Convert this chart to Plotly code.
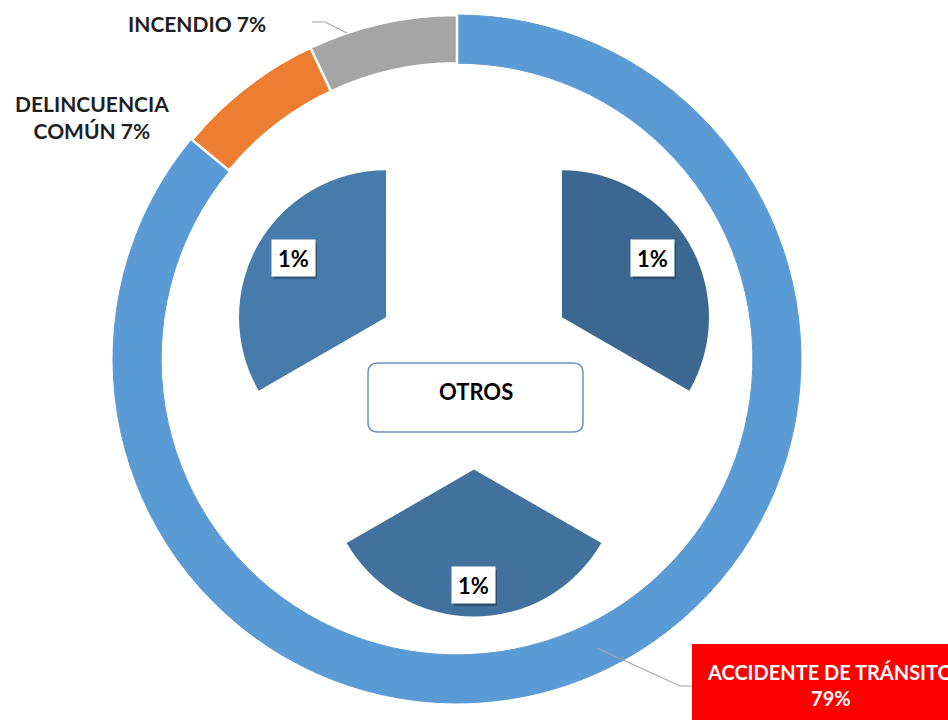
import plotly.graph_objects as go

W, H = 948, 720

# outer ring (clockwise from 12 o'clock)
ring_labels = ["ACCIDENTE DE TRÁNSITO", "OTROS", "DELINCUENCIA COMÚN", "INCENDIO"]
ring_values = [79, 7, 7, 7]
ring_colors = ["#5B9BD5", "#5B9BD5", "#ED7D31", "#A5A5A5"]
ring_line_colors = ["#5B9BD5", "#5B9BD5", "white", "white"]
ring_line_widths = [1, 1, 2.5, 2.5]

# breakdown of OTROS (inner exploded pie)
otros_labels = ["Otros A", "Otros B", "Otros C"]
otros_values = [1, 1, 1]
otros_colors = ["#3B6790", "#41719C", "#477BAC"]


def fx(x):
    return x / W


def fy(y):
    return 1 - y / H


FONT = "Lato"

fig = go.Figure()

fig.add_trace(go.Pie(
    labels=ring_labels,
    values=ring_values,
    hole=0.86,
    sort=False,
    direction="clockwise",
    rotation=0,
    marker=dict(colors=ring_colors,
                line=dict(color=ring_line_colors, width=ring_line_widths)),
    textinfo="none",
    domain=dict(x=[fx(113), fx(801)], y=[fy(703), fy(15)]),
    showlegend=False,
))

fig.add_trace(go.Pie(
    labels=otros_labels,
    values=otros_values,
    sort=False,
    direction="clockwise",
    rotation=0,
    pull=0.691,
    marker=dict(colors=otros_colors, line=dict(width=0)),
    textinfo="none",
    domain=dict(x=[fx(225.4), fx(722.6)], y=[fy(616.6), fy(119.4)]),
    showlegend=False,
))

shapes = []
annotations = []

# rounded box for OTROS
x0, x1, y0, y1, r = 368, 583, 363, 432, 10
path = (
    f"M {fx(x0 + r)},{fy(y0)} L {fx(x1 - r)},{fy(y0)} "
    f"Q {fx(x1)},{fy(y0)} {fx(x1)},{fy(y0 + r)} "
    f"L {fx(x1)},{fy(y1 - r)} Q {fx(x1)},{fy(y1)} {fx(x1 - r)},{fy(y1)} "
    f"L {fx(x0 + r)},{fy(y1)} Q {fx(x0)},{fy(y1)} {fx(x0)},{fy(y1 - r)} "
    f"L {fx(x0)},{fy(y0 + r)} Q {fx(x0)},{fy(y0)} {fx(x0 + r)},{fy(y0)} Z"
)
shapes.append(dict(type="path", xref="paper", yref="paper", path=path,
                   fillcolor="white", line=dict(color="#6F93C0", width=1.5)))
annotations.append(dict(x=fx(476), y=fy(392), xref="paper", yref="paper",
                        xanchor="center", yanchor="middle",
                        text="<b>OTROS</b>", showarrow=False,
                        font=dict(family=FONT, size=22, color="#000000")))

# percentage boxes on the inner slices
pct_pos = [(652, 258), (473, 585), (293, 258)]
for v, (x, y) in zip(otros_values, pct_pos):
    shapes.append(dict(type="rect", xref="paper", yref="paper",
                       x0=fx(x - 19), x1=fx(x + 24), y0=fy(y + 21), y1=fy(y - 15),
                       fillcolor="rgba(0,0,0,0.28)", line=dict(width=0)))
    annotations.append(dict(x=fx(x), y=fy(y), xref="paper", yref="paper",
                            xanchor="center", yanchor="middle",
                            text=f"<b>{v}%</b>", showarrow=False,
                            width=43, height=36, bgcolor="white", borderpad=0,
                            font=dict(family=FONT, size=22, color="#000000")))

# leader lines
lines = [
    [(312, 22), (325, 22), (347, 33)],
    [(597, 648), (680, 686), (692, 686)],
]
for pts in lines:
    p = "M " + " L ".join(f"{fx(a)},{fy(b)}" for a, b in pts)
    shapes.append(dict(type="path", xref="paper", yref="paper", path=p,
                       line=dict(color="#A6A6A6", width=1.2)))

# red label box for ACCIDENTE
shapes.append(dict(type="rect", xref="paper", yref="paper",
                   x0=fx(692), x1=fx(965), y0=fy(735), y1=fy(644),
                   fillcolor="#FF0000", line=dict(width=0)))

annotations.append(dict(x=fx(197), y=fy(24), xref="paper", yref="paper",
                        xanchor="center", yanchor="middle",
                        text=f"<b>{ring_labels[3]} {ring_values[3]}%</b>",
                        showarrow=False,
                        font=dict(family=FONT, size=21, color="#1F1F1F")))
annotations.append(dict(x=fx(92), y=fy(117), xref="paper", yref="paper",
                        xanchor="center", yanchor="middle",
                        text=f"<b>DELINCUENCIA<br>COMÚN {ring_values[2]}%</b>",
                        showarrow=False,
                        font=dict(family=FONT, size=21, color="#1F1F1F")))
annotations.append(dict(x=fx(830), y=fy(685), xref="paper", yref="paper",
                        xanchor="center", yanchor="middle",
                        text=f"<b>{ring_labels[0]}<br>{ring_values[0]}%</b>",
                        showarrow=False,
                        font=dict(family=FONT, size=20, color="#FFFFFF")))

fig.update_layout(
    width=W, height=H,
    margin=dict(l=0, r=0, t=0, b=0),
    paper_bgcolor="white",
    plot_bgcolor="white",
    shapes=shapes,
    annotations=annotations,
)

fig.write_html("out.html",
               config={"displayModeBar": False},
               post_script="document.body.style.margin='0';document.body.style.overflow='hidden';")
